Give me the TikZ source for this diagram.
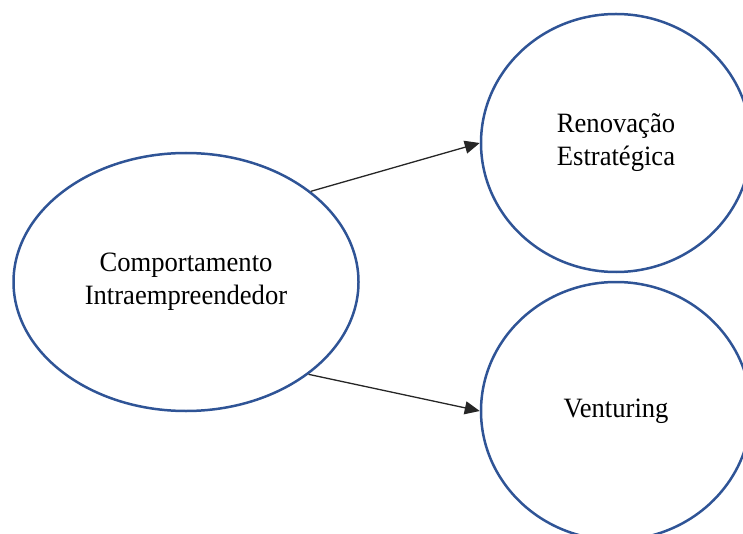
\documentclass[tikz,border=0pt]{standalone}
\usepackage{fontspec}
\setmainfont{Liberation Serif}
\usetikzlibrary{shapes.geometric,arrows.meta}
\definecolor{oblue}{RGB}{47,84,150}
\newcommand{\sq}[1]{\scalebox{0.95}[1]{#1}}
\tikzset{
  bubble/.style={ellipse,draw=oblue,line width=2.5pt,inner sep=0pt,align=center,
    font=\fontsize{28}{33}\selectfont},
  arr/.style={draw=black!85,line width=1.3pt,-{Triangle[length=15pt,width=13pt]}}
}
\begin{document}
\begin{tikzpicture}[x=1pt,y=-1pt]
\useasboundingbox (0,0) rectangle (743,534);
\clip (0,0) rectangle (743,534);
\node[bubble,minimum width=345pt,minimum height=258pt] (ci) at (186,282) {\sq{Comportamento}\\\sq{Intraempreendedor}};
\node[bubble,minimum width=270pt,minimum height=258pt] (re) at (616,143) {\sq{Renovação}\\\sq{Estratégica}};
\node[bubble,minimum width=270pt,minimum height=258pt] (ve) at (616,411) {\sq{Venturing}};
\draw[arr] (ci.36) -- (re.west);
\draw[arr] (ci.-37) -- (ve.west);
\end{tikzpicture}
\end{document}
